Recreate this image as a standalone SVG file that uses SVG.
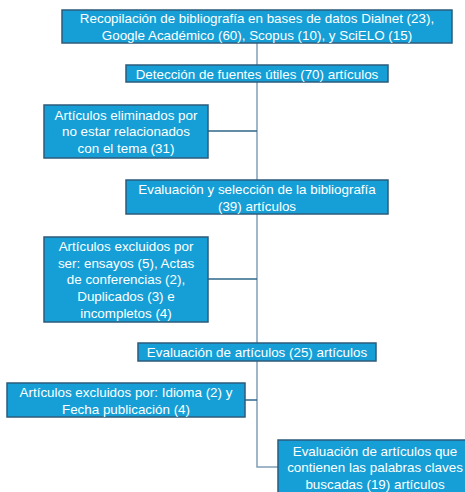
<svg xmlns="http://www.w3.org/2000/svg" width="465" height="492" viewBox="0 0 465 492">
<style>
.box{fill:#159fd6;stroke:#2d5b7c;stroke-width:1.5}
.t{font-family:"Liberation Sans",Arial,sans-serif;font-size:13.4px;fill:#ffffff;text-anchor:middle}
.v{stroke:#7f9fb7;stroke-width:1.5;fill:none}
.h{stroke:#2f6688;stroke-width:1.5;fill:none}
</style>
<rect width="465" height="492" fill="#ffffff"/>
<g id="connectors">
<line class="v" x1="257" y1="43" x2="257" y2="343"/>
<path class="v" d="M257 361 V467 H278"/>
<line class="h" x1="208" y1="131" x2="257" y2="131"/>
<line class="h" x1="208" y1="279" x2="257" y2="279"/>
<line class="h" x1="245" y1="400" x2="257" y2="400"/>
</g>
<g id="n1">
<rect class="box" x="62" y="10" width="390" height="33"/>
<text class="t" x="257" y="22.5">Recopilación de bibliografía en bases de datos Dialnet (23),</text>
<text class="t" x="257" y="39.5">Google Académico (60), Scopus (10), y SciELO (15)</text>
</g>
<g id="n2">
<rect class="box" x="126" y="65" width="262" height="17"/>
<text class="t" x="257" y="78.5">Detección de fuentes útiles (70) artículos</text>
</g>
<g id="n3">
<rect class="box" x="44" y="105" width="164" height="53"/>
<text class="t" x="126" y="119.5">Artículos eliminados por</text>
<text class="t" x="126" y="136">no estar relacionados</text>
<text class="t" x="126" y="152.5">con el tema (31)</text>
</g>
<g id="n4">
<rect class="box" x="126" y="180" width="262" height="34"/>
<text class="t" x="257" y="193.5">Evaluación y selección de la bibliografía</text>
<text class="t" x="257" y="210.5">(39) artículos</text>
</g>
<g id="n5">
<rect class="box" x="44" y="237" width="164" height="85"/>
<text class="t" x="126" y="250.5">Artículos excluidos por</text>
<text class="t" x="126" y="267.5">ser: ensayos (5), Actas</text>
<text class="t" x="126" y="284">de conferencias (2),</text>
<text class="t" x="126" y="300.5">Duplicados (3) e</text>
<text class="t" x="126" y="317.5">incompletos (4)</text>
</g>
<g id="n6">
<rect class="box" x="138" y="343" width="238" height="18"/>
<text class="t" x="257" y="356.5">Evaluación de artículos (25) artículos</text>
</g>
<g id="n7">
<rect class="box" x="7" y="383" width="238" height="34"/>
<text class="t" x="126" y="396.5">Artículos excluidos por: Idioma (2) y</text>
<text class="t" x="126" y="413.5">Fecha publicación (4)</text>
</g>
<g id="n8">
<rect class="box" x="278" y="440" width="195" height="60"/>
<text class="t" x="375" y="455.5">Evaluación de artículos que</text>
<text class="t" x="375" y="471.5">contienen las palabras claves</text>
<text class="t" x="375" y="488.5">buscadas (19) artículos</text>
</g>
</svg>
